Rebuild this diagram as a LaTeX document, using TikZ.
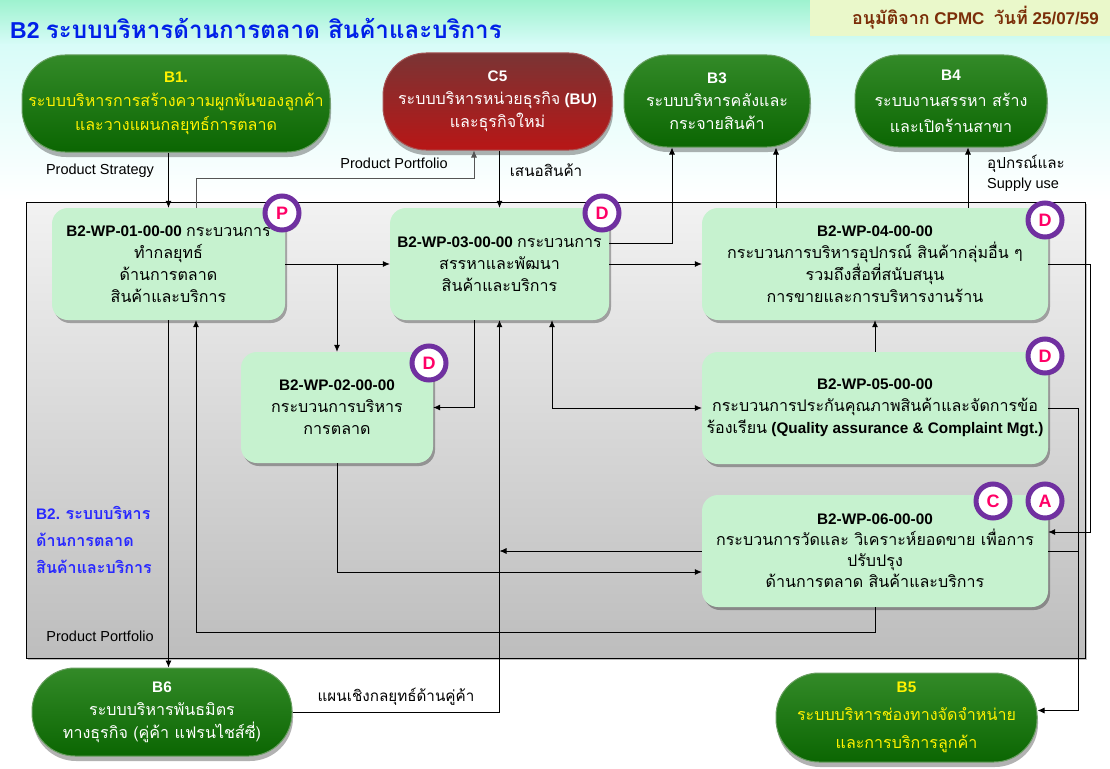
\documentclass[tikz,border=0pt]{standalone}
\usepackage{fontspec}
\setmainfont{Liberation Sans}
\newfontfamily\thai[Script=Thai, Scale=1.05]{Loma}
\usetikzlibrary{arrows.meta,shadows,calc}
\definecolor{wpfill}{HTML}{C6F2CF}
\definecolor{capt}{HTML}{338A28}
\definecolor{capb}{HTML}{0B6602}
\definecolor{capedge}{HTML}{6A9E62}
\definecolor{redt}{HTML}{7A3434}
\definecolor{redb}{HTML}{B81616}
\definecolor{rededge}{HTML}{A85656}
\definecolor{badgeline}{HTML}{7030A0}
\definecolor{badgetxt}{HTML}{FF0066}
\definecolor{titleblue}{HTML}{0020E8}
\definecolor{lblblue}{HTML}{2828FF}
\definecolor{datetxt}{HTML}{7B2E08}
\definecolor{datefill}{HTML}{EAF8CA}
\definecolor{bgtop}{HTML}{9EF2CF}
\definecolor{bgmid}{HTML}{D8FCF8}
\definecolor{paneltop}{HTML}{F2F2F2}
\definecolor{panelbot}{HTML}{BDBDBD}
\definecolor{linegray}{HTML}{555555}
\newcommand\tht[1]{{\thai #1}}
\begin{document}
\begin{tikzpicture}[x=1pt,y=-1pt,
  arr/.style={draw=black, line width=0.8pt, -{Latex[length=7pt,width=6pt]}},
  arrboth/.style={draw=black, line width=0.8pt, {Latex[length=7pt,width=6pt]}-{Latex[length=7pt,width=6pt]}},
  ln/.style={draw=black, line width=0.8pt},
  wp/.style={rounded corners=16pt, fill=wpfill, align=center, inner sep=0pt,
    font=\fontsize{15.3}{22}\selectfont,
    drop shadow={shadow xshift=2pt, shadow yshift=-3pt, opacity=0.3, fill=black}},
  capg/.style={rounded corners=43pt, draw=capedge, line width=1pt, top color=capt, bottom color=capb,
    align=center, inner sep=0pt, text=white, font=\fontsize{15.3}{24}\selectfont,
    drop shadow={shadow xshift=1pt, shadow yshift=-5pt, opacity=0.3, fill=black}},
  capr/.style={capg, draw=rededge, top color=redt, bottom color=redb},
  badge/.style={circle, draw=badgeline, line width=5pt, fill=white, minimum size=34pt, inner sep=0pt,
    text=badgetxt, font=\fontsize{18}{18}\selectfont\bfseries,
    drop shadow={shadow xshift=2pt, shadow yshift=-2pt, opacity=0.3, fill=black}},
  lbl/.style={font=\fontsize{14.5}{20}\selectfont, inner sep=0pt}
]
\useasboundingbox (0,0) rectangle (1110,768);
\fill[top color=bgtop, bottom color=bgmid] (0,0) rectangle (1110,45);
\fill[top color=bgmid, bottom color=white] (0,45) rectangle (1110,200);

% title and date
\node[anchor=west, text=titleblue, font=\fontsize{23}{26}\selectfont\bfseries, inner sep=0pt] (title) at (10,28)
  {B2 \tht{ระบบบริหารด้านการตลาด สินค้าและบริการ}};
\node[fill=datefill, minimum width=300pt, minimum height=36pt, anchor=north east, inner sep=0pt] (datebox) at (1110,0) {};
\node[anchor=east, text=datetxt, font=\fontsize{17}{18}\selectfont\bfseries, inner sep=0pt] (date) at (1099,18)
  {\tht{อนุมัติจาก} CPMC\ \ \tht{วันที่} 25/07/59};

% panel
\node[draw=black, line width=0.8pt, top color=paneltop, bottom color=panelbot, minimum width=1059pt, minimum height=456pt, inner sep=0pt,
  drop shadow={shadow xshift=2pt, shadow yshift=-2pt, opacity=0.25, fill=black}] (panel) at (555.5,430) {};

% outer systems
\node[capg, minimum width=308pt, minimum height=97pt, text=yellow] (b1) at (176,103.5)
  {\textbf{B1.}\\\tht{ระบบบริหารการสร้างความผูกพันของลูกค้า}\\\tht{และวางแผนกลยุทธ์การตลาด}};
\node[capr, minimum width=229pt, minimum height=97pt, font=\fontsize{15.3}{23}\selectfont] (c5) at (497.5,101.5)
  {\textbf{C5}\\\tht{ระบบบริหารหน่วยธุรกิจ} \textbf{(BU)}\\\tht{และธุรกิจใหม่}};
\node[capg, minimum width=186pt, minimum height=92pt, font=\fontsize{15.3}{23}\selectfont] (b3) at (717,101)
  {\textbf{B3}\\\tht{ระบบบริหารคลังและ}\\\tht{กระจายสินค้า}};
\node[capg, minimum width=192pt, minimum height=92pt, font=\fontsize{15.3}{26}\selectfont] (b4) at (951,101)
  {\textbf{B4}\\\tht{ระบบงานสรรหา สร้าง}\\\tht{และเปิดร้านสาขา}};
\node[capg, minimum width=260pt, minimum height=88pt, font=\fontsize{15.3}{23}\selectfont] (b6) at (162,712)
  {\textbf{B6}\\\tht{ระบบบริหารพันธมิตร}\\\tht{ทางธุรกิจ (คู่ค้า แฟรนไชส์ซี่)}};
\node[capg, minimum width=261pt, minimum height=89pt, text=yellow, font=\fontsize{15.3}{28}\selectfont] (b5) at (906.5,717.5)
  {\textbf{B5}\\\tht{ระบบบริหารช่องทางจัดจำหน่าย}\\\tht{และการบริการลูกค้า}};

% work processes
\node[wp, minimum width=233pt, minimum height=112pt] (wp1) at (168.5,264)
  {\textbf{B2-WP-01-00-00} \tht{กระบวนการ}\\\tht{ทำกลยุทธ์}\\\tht{ด้านการตลาด}\\\tht{สินค้าและบริการ}};
\node[wp, minimum width=219pt, minimum height=112pt] (wp3) at (499.5,264)
  {\textbf{B2-WP-03-00-00} \tht{กระบวนการ}\\\tht{สรรหาและพัฒนา}\\\tht{สินค้าและบริการ}};
\node[wp, minimum width=346pt, minimum height=112pt] (wp4) at (875,264)
  {\textbf{B2-WP-04-00-00}\\\tht{กระบวนการบริหารอุปกรณ์ สินค้ากลุ่มอื่น ๆ}\\\tht{รวมถึงสื่อที่สนับสนุน}\\\tht{การขายและการบริหารงานร้าน}};
\node[wp, minimum width=192pt, minimum height=111pt] (wp2) at (337,407.5)
  {\textbf{B2-WP-02-00-00}\\\tht{กระบวนการบริหาร}\\\tht{การตลาด}};
\node[wp, minimum width=346pt, minimum height=112pt] (wp5) at (875,408)
  {\textbf{B2-WP-05-00-00}\\\tht{กระบวนการประกันคุณภาพสินค้าและจัดการข้อ}\\\tht{ร้องเรียน} \textbf{(Quality assurance \& Complaint Mgt.)}};
\node[wp, minimum width=346pt, minimum height=112pt, font=\fontsize{15.3}{21}\selectfont] (wp6) at (875,551)
  {\textbf{B2-WP-06-00-00}\\\tht{กระบวนการวัดและ วิเคราะห์ยอดขาย เพื่อการ}\\\tht{ปรับปรุง}\\\tht{ด้านการตลาด สินค้าและบริการ}};

% panel label
\node[anchor=west, align=left, text=lblblue, font=\fontsize{15.3}{27}\selectfont\bfseries, inner sep=0pt] (b2lbl) at (36,540)
  {B2. \tht{ระบบบริหาร}\\\tht{ด้านการตลาด}\\\tht{สินค้าและบริการ}};

% helper columns / bends
\coordinate (pp) at (196,178);
\coordinate (pq) at (474,178);
\coordinate (d1) at (672,243);
\coordinate (e1) at (776,0);
\coordinate (f1) at (968,0);
\coordinate (g1) at (337,0);
\coordinate (i1) at (474,0);
\coordinate (m1) at (552,0);
\coordinate (o1) at (1090,0);
\coordinate (p1) at (1078,0);

% connectors
\draw[arr] (wp1.north |- b1.south) -- (wp1.north);
\draw[arr, draw=linegray] (wp1.north -| pp) -- (pp) -- (pq) -- (c5.south -| pq);
\draw[arr] (wp3.north |- c5.south) -- (wp3.north);
\draw[arr] (wp3.east |- d1) -- (d1) -- (b3.south -| d1);
\draw[arr] (wp4.north -| e1) -- (b3.south -| e1);
\draw[arr] (wp4.north -| f1) -- (b4.south -| f1);
\draw[arr] (wp1.east) -- (wp3.west);
\draw[arr] (wp1.east -| g1) -- (wp2.north);
\draw[arr] (wp3.east) -- (wp4.west);
\draw[arr] (wp3.south -| i1) |- (wp2.east);
\draw[arr] (b6.east) -| (wp3.south);
\draw[arr] (wp6.west) -- (wp6.west -| wp3.south);
\draw[arr] (wp2.south) |- ($(wp6.west)+(0,21)$);
\draw[arrboth] (wp5.west) -| (wp3.south -| m1);
\draw[arr] (wp5.north) -- (wp4.south);
\draw[arr] (wp4.east) -- (wp4.east -| o1) |- ($(wp6.east)+(0,-19)$);
\draw[arr] (wp5.east) -- (wp5.east -| p1) |- ($(b5.east)+(0,-7)$);
\draw[ln] (wp6.east) -- (wp6.east -| p1);
\draw[arr] (wp6.south) -- ++(0,25) -| (wp1.south -| pp);
\draw[arr] (wp1.south) -- (wp1.south |- b6.north);

% connector labels
\node[lbl] (l1) at (100,171) {Product Strategy};
\node[lbl] (l2) at (394,163) {Product Portfolio};
\node[lbl] (l3) at (546,170) {\tht{เสนอสินค้า}};
\node[lbl, anchor=west, align=left] (l4) at (987,173) {\tht{อุปกรณ์และ}\\Supply use};
\node[lbl] (l5) at (100,636) {Product Portfolio};
\node[lbl] (l6) at (396,697) {\tht{แผนเชิงกลยุทธ์ด้านคู่ค้า}};

% badges
\node[badge] (bp) at (282,213) {P};
\node[badge] (bd3) at (602,213) {D};
\node[badge] (bd4) at (1045,220) {D};
\node[badge] (bd2) at (429,363) {D};
\node[badge] (bd5) at (1045,356) {D};
\node[badge] (bc) at (993,501) {C};
\node[badge] (ba) at (1045,501) {A};
\end{tikzpicture}
\end{document}
